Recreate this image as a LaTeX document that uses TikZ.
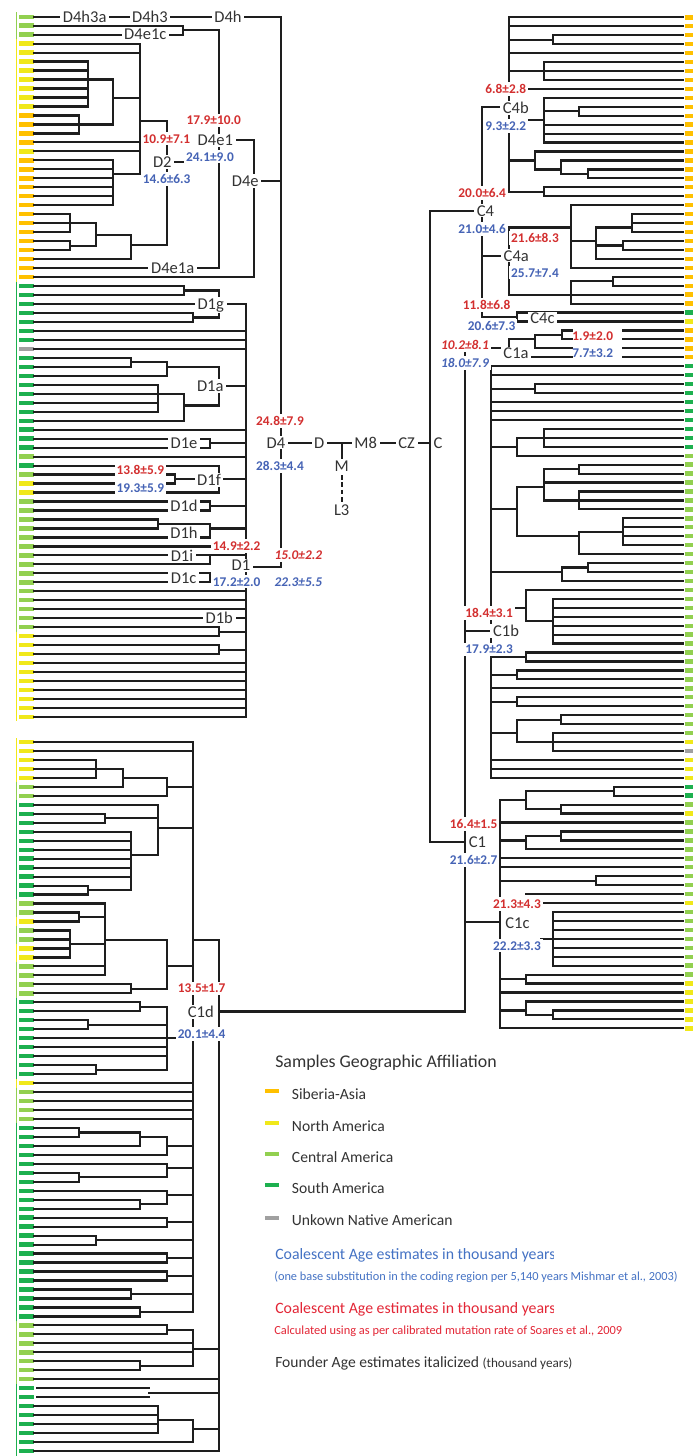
\documentclass[tikz,border=0pt]{standalone}
\usepackage{fontspec}
\setmainfont{Carlito}
\definecolor{lnc}{HTML}{1E1E1E}
\definecolor{cO}{HTML}{FFC000}
\definecolor{cY}{HTML}{F0E81A}
\definecolor{cL}{HTML}{92D050}
\definecolor{cG}{HTML}{1DB04F}
\definecolor{cX}{HTML}{A0A0A0}
\definecolor{cR}{HTML}{D32F2F}
\definecolor{cB}{HTML}{4563B5}
\definecolor{txt}{HTML}{333333}
\definecolor{legB}{HTML}{4472C4}
\definecolor{legR}{HTML}{E32636}
\newcommand\yL[1]{(16.7+8.978*(#1))}
\newcommand\yB[1]{(742+8.975*(#1))}
\newcommand\yR[1]{(17.3+8.947*(#1))}
\newcommand\hLn[3]{\draw[tl] (#1,{#3}) -- (#2,{#3});}
\newcommand\vLn[3]{\draw[tl] (#1,{#2}) -- (#1,{#3});}
\newcommand\lLf[2]{\hLn{34}{#2}{\yL{#1}}}
\newcommand\bLf[2]{\hLn{34}{#2}{\yB{#1}}}
\newcommand\rLf[2]{\hLn{#2}{683}{\yR{#1}}}
\newcommand\lPr[3]{\lLf{#1}{#2}\lLf{#1+1}{#2}\vLn{#2}{\yL{#1}}{\yL{#1+1}}\hLn{#2}{#3}{\yL{#1+0.5}}}
\newcommand\bPr[3]{\bLf{#1}{#2}\bLf{#1+1}{#2}\vLn{#2}{\yB{#1}}{\yB{#1+1}}\hLn{#2}{#3}{\yB{#1+0.5}}}
\newcommand\rPr[3]{\rLf{#1}{#2}\rLf{#1+1}{#2}\vLn{#2}{\yR{#1}}{\yR{#1+1}}\hLn{#3}{#2}{\yR{#1+0.5}}}
\begin{document}
\begin{tikzpicture}[x=0.75pt,y=-0.75pt,
 tl/.style={draw=lnc,line width=1.65pt,line cap=rect},
 lab/.style={fill=white,inner xsep=2pt,inner ysep=1pt,text=txt,font=\fontsize{12.4}{14}\selectfont},
 nm/.style={fill=white,inner xsep=1.5pt,inner ysep=1.7pt,font=\bfseries\fontsize{10}{12}\selectfont},
 rn/.style={nm,text=cR}, bn/.style={nm,text=cB},
 rni/.style={nm,text=cR,font=\bfseries\itshape\fontsize{10}{12}\selectfont},
 bni/.style={nm,text=cB,font=\bfseries\itshape\fontsize{10}{12}\selectfont},
 leg/.style={anchor=west,inner sep=0pt,text=txt,font=\fontsize{11.7}{13}\selectfont}]
\fill[white] (0,0) rectangle (693,1456);
\useasboundingbox (0,0) rectangle (693,1456);

% ---------- markers ----------
\foreach \a/\b/\c in {0/2/cL,3/10/cY,11/14/cO,15/15/cY,16/29/cO,30/36/cG,37/37/cX,38/48/cG,49/49/cL,50/50/cG,51/51/cL,52/53/cY,54/68/cL,69/78/cY}{
  \foreach \i in {\a,...,\b}{\fill[\c] (19,{\yL{\i}-2.2}) rectangle (34,{\yL{\i}+2.2});}}
\foreach \a/\b/\c in {0/2/cL,3/29/cY,30/50/cG,51/68/cL,69/78/cY}{
  \fill[\c] (15.9,{\yL{\a}-4.5}) rectangle (16.9,{\yL{\b}+4.5});}
\foreach \a/\b/\c in {0/4/cY,5/6/cL,7/17/cG,18/19/cL,20/20/cY,21/22/cL,23/24/cY,25/28/cL,29/37/cG,38/38/cY,39/42/cL,43/64/cG,65/71/cL,72/79/cG}{
  \foreach \i in {\a,...,\b}{\fill[\c] (19,{\yB{\i}-2.2}) rectangle (34,{\yB{\i}+2.2});}
  \fill[\c] (15.9,{\yB{\a}-4.5}) rectangle (16.9,{\yB{\b}+4.5});}
\foreach \a/\b/\c in {0/32/cO,33/33/cG,34/34/cY,35/38/cO,39/48/cG,49/80/cL,81/81/cY,82/82/cX,83/85/cY,86/87/cG,88/88/cL,89/89/cY,90/98/cL,99/99/cY,100/107/cL,108/113/cY}{
  \foreach \i in {\a,...,\b}{\fill[\c] (685,{\yR{\i}-2.2}) rectangle (693,{\yR{\i}+2.2});}}

% ---------- left top: D4 ----------
\lLf{0}{281}
\lPr{1}{183}{219}
\vLn{219}{\yL{1.5}}{\yL{28}} \lLf{28}{219}
\hLn{219}{254}{140.3} \vLn{254}{140.3}{\yL{29}} \lLf{29}{254} \hLn{254}{281}{181}
\hLn{167}{219}{162} \vLn{167}{121}{245} \hLn{140}{167}{121}
\vLn{140}{\yL{3}}{174} \lLf{3}{140}\lLf{4}{140}\lLf{14}{140}\lLf{15}{140}
\hLn{113}{140}{97.7} \vLn{113}{\yL{7}}{\yL{12}}
\foreach \i in {5,...,10}{\lLf{\i}{88}} \vLn{88}{\yL{5}}{\yL{10}} \hLn{88}{113}{\yL{7}}
\foreach \i in {11,12,13}{\lLf{\i}{79}} \vLn{79}{\yL{11}}{\yL{13}} \hLn{79}{113}{\yL{12}}
\foreach \i in {16,...,21}{\lLf{\i}{113}} \vLn{113}{\yL{16}}{\yL{21}} \hLn{113}{140}{174}
\foreach \i in {22,23,24}{\lLf{\i}{70}} \vLn{70}{\yL{22}}{\yL{24}} \hLn{70}{96}{\yL{23}}
\lPr{25}{70}{96}
\vLn{96}{\yL{23}}{\yL{25.5}} \hLn{96}{131}{\yL{24.3}}
\vLn{131}{\yL{24.3}}{\yL{27}} \lLf{27}{131} \hLn{131}{167}{245}

% ---------- left top: D1 ----------
\lPr{30}{184}{219} \lPr{33}{193}{219} \vLn{219}{\yL{30.5}}{\yL{33.5}}
\lLf{32}{246} \foreach \i in {35,36,37}{\lLf{\i}{246}}
\lPr{38}{131}{167} \lLf{40}{167} \vLn{167}{\yL{38.5}}{\yL{40}} \hLn{167}{219}{\yL{39}}
\foreach \i in {41,...,44}{\lLf{\i}{158}} \vLn{158}{\yL{41}}{\yL{44}} \hLn{158}{184}{\yL{42}}
\lLf{45}{184} \vLn{184}{\yL{42}}{\yL{45}} \hLn{184}{219}{\yL{43.3}}
\vLn{219}{\yL{39}}{\yL{43.3}} \hLn{219}{246}{386}
\lLf{46}{246}
\lPr{47}{210}{246}
\lLf{49}{246}
\lLf{50}{219} \lPr{51}{175}{246} \lLf{53}{219} \vLn{219}{\yL{50}}{\yL{53}}
\lPr{54}{210}{246}
\lPr{56}{158}{210} \lLf{58}{210} \vLn{210}{\yL{56.5}}{\yL{58}} \hLn{210}{246}{\yL{57}}
\lLf{59}{246}
\lLf{60}{210}\lLf{61}{210}\vLn{210}{\yL{60}}{\yL{61}}\hLn{210}{246}{\yL{60}}
\lPr{62}{210}{246}
\foreach \i in {64,...,67}{\lLf{\i}{246}}
\lPr{68}{219}{246} \lPr{70}{219}{246}
\foreach \i in {72,...,78}{\lLf{\i}{246}}
\vLn{246}{\yL{32}}{\yL{78}}
\hLn{246}{281}{566.7}
\vLn{281}{\yL{0}}{566.7}
\hLn{281}{430}{442.7}
\vLn{341.7}{442.7}{462}
\draw[tl,line cap=butt,dash pattern=on 3.4pt off 2.2pt] (341.7,475) -- (341.7,503);

% ---------- left bottom: C1d ----------
\vLn{192.7}{\yB{0}}{\yB{63.5}}
\bLf{0}{192.7} \bLf{1}{192.7}
\foreach \k in {2,3,4}{\bLf{\k}{96}} \vLn{96}{\yB{2}}{\yB{4}} \hLn{96}{123.3}{\yB{3}}
\bLf{5}{123.3} \vLn{123.3}{\yB{3}}{\yB{5}} \hLn{123.3}{166.7}{\yB{4}}
\bLf{6}{166.7} \vLn{166.7}{\yB{4}}{\yB{6}} \hLn{166.7}{192.7}{\yB{5}}
\bLf{7}{157.7}
\bPr{8}{105}{157.7}
\foreach \k in {10,...,15}{\bLf{\k}{131}}
\bPr{16}{88.3}{131}
\vLn{131}{\yB{10}}{\yB{16.5}} \hLn{131}{157.7}{\yB{12.6}}
\vLn{157.7}{\yB{7}}{\yB{12.6}} \hLn{157.7}{192.7}{\yB{9.55}}
\bLf{18}{105}
\bPr{19}{79}{105}
\foreach \k in {21,...,24}{\bLf{\k}{70}} \vLn{70}{\yB{21}}{\yB{24}} \hLn{70}{105}{\yB{22.5}}
\bLf{25}{105} \bLf{26}{105} \vLn{105}{\yB{18}}{\yB{26}} \hLn{105}{166.7}{\yB{22.1}}
\bPr{27}{131}{166.7}
\vLn{166.7}{\yB{22.1}}{\yB{27.5}} \hLn{166.7}{192.7}{\yB{25}}
\hLn{192.7}{219}{\yB{22.1}}
\bPr{29}{140}{166.7}
\bPr{31}{88.3}{166.7}
\foreach \k in {33,34,35}{\bLf{\k}{166.7}}
\bPr{36}{96}{166.7}
\vLn{166.7}{\yB{29.5}}{\yB{36.5}} \hLn{166.7}{192.7}{\yB{33}}
\foreach \k in {38,...,42}{\bLf{\k}{192.7}}
\bPr{43}{79}{140} \bLf{45}{140} \vLn{140}{\yB{43.5}}{\yB{45}} \hLn{140}{166.7}{\yB{44}}
\bLf{46}{166.7} \vLn{166.7}{\yB{44}}{\yB{46}} \hLn{166.7}{192.7}{\yB{45}}
\bLf{47}{166.7} \bPr{48}{79}{166.7} \vLn{166.7}{\yB{47}}{\yB{48.5}} \hLn{166.7}{192.7}{\yB{47.5}}
\bLf{50}{166.7} \bPr{51}{140}{166.7} \vLn{166.7}{\yB{50}}{\yB{51.5}} \hLn{166.7}{192.7}{\yB{50.5}}
\bPr{53}{166.7}{192.7} \bPr{55}{96}{192.7} \bPr{57}{166.7}{192.7}
\bPr{59}{166.7}{192.7} \bPr{61}{131}{192.7} \bPr{63}{140}{192.7}
\bPr{65}{166.7}{192.7} \bLf{67}{192.7} \bLf{68}{192.7} \bPr{69}{140}{192.7}
\vLn{192.7}{\yB{65.5}}{\yB{69.5}} \hLn{192.7}{219}{\yB{67.6}}
\bLf{71}{219}
\hLn{36.7}{149}{\yB{72}} \hLn{36.7}{149}{\yB{73}} \hLn{149}{219}{\yB{72.5}}
\foreach \k in {74,...,77}{\bLf{\k}{157.7}} \vLn{157.7}{\yB{74}}{\yB{77}} \hLn{157.7}{192.7}{\yB{75.5}}
\bLf{78}{192.7} \vLn{192.7}{\yB{75.5}}{\yB{78}} \hLn{192.7}{219}{\yB{76.5}}
\bLf{79}{219}
\vLn{219}{\yB{22.1}}{\yB{79}}
\hLn{219}{465}{1011.5}

% ---------- right: C4 ----------
\rLf{0}{509.3} \rLf{1}{509.3}
\rPr{2}{552.7}{509.3}
\rLf{4}{509.3}
\rLf{5}{544}\rLf{6}{544}\rLf{7}{544}\vLn{544}{\yR{5}}{\yR{7}}\hLn{509.3}{544}{\yR{6}}
\rLf{8}{509.3}
\rLf{9}{544} \rPr{10}{578.7}{544} \rLf{12}{544}\rLf{13}{544}\rLf{14}{544}
\vLn{544}{\yR{9}}{\yR{14}} \hLn{509.3}{544}{\yR{11.5}}
\rLf{15}{535} \rLf{16}{561} \rPr{17}{587.7}{561} \vLn{561}{\yR{16}}{\yR{17.5}}
\vLn{535}{\yR{15}}{\yR{17}} \hLn{535}{561}{\yR{17}} \hLn{509.3}{535}{\yR{16}}
\rPr{19}{544}{509.3}
\vLn{509.3}{\yR{0}}{\yR{19.5}}
\hLn{481.7}{509.3}{106.7}
\rLf{21}{570.7}
\rLf{22}{632.3}\rLf{23}{632.3}\rLf{24}{632.3}\vLn{632.3}{\yR{22}}{\yR{24}}\hLn{595.7}{632.3}{\yR{23.5}}
\rPr{25}{622.7}{595.7}
\rLf{27}{595.7} \vLn{595.7}{\yR{23.5}}{\yR{27}} \hLn{570.7}{595.7}{\yR{25}}
\rLf{28}{570.7} \vLn{570.7}{\yR{21}}{\yR{28}} \hLn{509.3}{570.7}{\yR{23.5}}
\rPr{29}{613.3}{570.7} \rLf{31}{509.3} \rLf{32}{570.7} \vLn{570.7}{\yR{29.5}}{\yR{32}}
\vLn{509.3}{\yR{23.5}}{\yR{31}}
\hLn{481.7}{509.3}{255.7}
\rLf{33}{516.7}\rLf{34}{516.7}\vLn{516.7}{\yR{33}}{\yR{34}}\hLn{481.7}{516.7}{\yR{33.5}}
\vLn{481.7}{106.7}{\yR{33.5}}
\hLn{430}{481.7}{210.7}

% ---------- right: C1a ----------
\hLn{561.7}{571.7}{\yR{35}} \hLn{622.7}{683}{\yR{35}}
\hLn{561.7}{571.7}{\yR{36}} \hLn{622.7}{683}{\yR{36}}
\vLn{561.7}{\yR{35}}{\yR{36}} \hLn{535}{561.7}{\yR{35.5}}
\hLn{535}{571.7}{\yR{37}} \hLn{622.7}{683}{\yR{37}}
\vLn{535}{\yR{35.5}}{\yR{37}} \hLn{509.3}{535}{\yR{36}}
\hLn{509.3}{571.7}{\yR{38}} \hLn{622.7}{683}{\yR{38}}
\vLn{509.3}{\yR{36}}{\yR{38}} \hLn{465}{509.3}{\yR{37}}

% ---------- right: C1b ----------
\rLf{39}{491}\rLf{40}{491}
\rPr{41}{535}{491}
\rLf{43}{491}\rLf{44}{491}\rLf{45}{491}
\rLf{46}{544}\rLf{47}{544}\rLf{48}{544}\vLn{544}{\yR{46}}{\yR{48}}\hLn{516.7}{544}{\yR{47}}
\rLf{49}{516.7}\vLn{516.7}{\yR{47}}{\yR{49}}\hLn{491}{516.7}{\yR{48}}
\rPr{50}{578.7}{544} \rLf{52}{544}
\rLf{53}{578.7}\rLf{54}{578.7}\rLf{55}{578.7}\vLn{578.7}{\yR{53}}{\yR{55}}\hLn{544}{578.7}{\yR{54}}
\vLn{544}{\yR{50.5}}{\yR{54}} \hLn{516.7}{544}{\yR{52.5}}
\foreach \j in {56,...,59}{\rLf{\j}{622.7}} \vLn{622.7}{\yR{56}}{\yR{59}} \hLn{578.7}{622.7}{\yR{57.5}}
\rLf{60}{578.7} \vLn{578.7}{\yR{57.5}}{\yR{60}} \hLn{516.7}{578.7}{\yR{58}}
\vLn{516.7}{\yR{52.5}}{\yR{58}} \hLn{491}{516.7}{\yR{55}}
\rPr{61}{587.7}{561.7} \rLf{63}{561.7} \vLn{561.7}{\yR{61.5}}{\yR{63}} \hLn{491}{561.7}{\yR{62}}
\rLf{64}{526} \foreach \j in {65,...,70}{\rLf{\j}{553.3}} \vLn{553.3}{\yR{65}}{\yR{70}}
\hLn{526}{553.3}{\yR{67.5}} \vLn{526}{\yR{64}}{\yR{67.5}} \hLn{491}{526}{\yR{66}}
\rPr{71}{526}{491}
\rPr{73}{516.7}{491}
\rLf{75}{491}
\rPr{76}{516.7}{491}
\rPr{78}{561}{516.7} \rLf{80}{552.7}\rLf{81}{552.7}\rLf{82}{552.7}\vLn{552.7}{\yR{80}}{\yR{82}}\hLn{516.7}{552.7}{\yR{81}}
\vLn{516.7}{\yR{78.5}}{\yR{81}} \hLn{491}{516.7}{\yR{80}}
\rLf{83}{491}\rLf{84}{491}\rLf{85}{491}
\vLn{491}{\yR{39}}{\yR{85}}
\hLn{465}{491}{631}

% ---------- right: C1c ----------
\rPr{86}{614.3}{526} \rPr{88}{561}{526} \vLn{526}{\yR{86.5}}{\yR{88.5}} \hLn{500}{526}{\yR{87.5}}
\rLf{90}{500}
\rPr{91}{561}{526} \rLf{93}{526} \vLn{526}{\yR{91.5}}{\yR{93}} \hLn{500}{526}{\yR{92}}
\rLf{94}{500}\rLf{95}{500}
\rPr{96}{596}{500}
\rLf{98}{526}
\rLf{99}{500}
\foreach \j in {100,...,106}{\rLf{\j}{552.7}} \vLn{552.7}{\yR{100}}{\yR{106}} \hLn{541}{552.7}{\yR{103}}
\rPr{107}{526}{500}
\rLf{109}{500}
\rLf{110}{526} \rPr{111}{552.7}{526} \vLn{526}{\yR{110}}{\yR{111.5}} \hLn{500}{526}{\yR{111}}
\rLf{113}{500}
\vLn{500}{\yR{87.5}}{\yR{113}}
\hLn{465}{500}{922.3}
\vLn{465}{\yR{37}}{1011.5}
\hLn{430}{465}{841.7}
\vLn{430}{210.7}{841.7}

% ---------- labels: left top ----------
\node[lab] (nD4h3a) at (84.7,16.7) {D4h3a};
\node[lab] (nD4h3) at (150,16.7) {D4h3};
\node[lab] (nD4h) at (228,16.7) {D4h};
\node[lab] (nD4e1c) at (145.3,34.7) {D4e1c};
\node[rn] (a1) at (213.7,120.3) {17.9±10.0};
\node[lab] (nD4e1) at (215.3,140.3) {D4e1};
\node[rn] (a2) at (166.3,138.7) {10.9±7.1};
\node[lab] (nD2) at (162.3,162) {D2};
\node[bn] (a3) at (210,156.7) {24.1±9.0};
\node[bn] (a4) at (166.7,179) {14.6±6.3};
\node[lab] (nD4e) at (245.3,181) {D4e};
\node[lab] (nD4e1a) at (172.7,268.1) {D4e1a};
\node[lab] (nD1g) at (210.7,305.3) {D1g};
\node[lab] (nD1a) at (210.3,386) {D1a};
\node[rn] (a5) at (280,420.7) {24.8±7.9};
\node[lab] (nD4) at (276,442.7) {D4};
\node[bn] (a6) at (280,466) {28.3±4.4};
\node[lab] (nD1e) at (184,443.2) {D1e};
\node[rn] (a7) at (140.3,470) {13.8±5.9};
\node[lab] (nD1f) at (209,479.5) {D1f};
\node[bn] (a8) at (140.3,488) {19.3±5.9};
\node[lab] (nD1d) at (184,506) {D1d};
\node[lab] (nD1h) at (184,533) {D1h};
\node[rn] (a9) at (236.7,546) {14.9±2.2};
\node[lab] (nD1i) at (182,555.4) {D1i};
\node[lab] (nD1) at (241,565.5) {D1};
\node[rni] (a10) at (298.3,555) {15.0±2.2};
\node[lab] (nD1c) at (183.7,577.8) {D1c};
\node[bn] (a11) at (236.7,581.7) {17.2±2.0};
\node[bni] (a12) at (298.3,581.7) {22.3±5.5};
\node[lab] (nD1b) at (219.3,618.2) {D1b};
% centre
\node[lab] (nD) at (319.3,442.7) {D};
\node[lab] (nM8) at (365.7,442.7) {M8};
\node[lab] (nCZ) at (406.7,442.7) {CZ};
\node[lab,inner xsep=0.5pt] (nC) at (438,442.7) {C};
\node[lab] (nM) at (341.7,466) {M};
\node[lab] (nL3) at (341.7,510) {L3};
% left bottom
\node[rn] (a13) at (201.7,988.3) {13.5±1.7};
\node[lab] (nC1d) at (200.8,1011.7) {C1d};
\node[bn] (a14) at (201.7,1034) {20.1±4.4};
% right
\node[rn] (a15) at (505.7,89.3) {6.8±2.8};
\node[lab] (nC4b) at (515.8,108.3) {C4b};
\node[bn] (a16) at (505.7,126) {9.3±2.2};
\node[rn] (a17) at (482.2,192.7) {20.0±6.4};
\node[lab] (nC4) at (485.5,210.7) {C4};
\node[bn] (a18) at (482.2,228.7) {21.0±4.6};
\node[rn] (a19) at (535,237.7) {21.6±8.3};
\node[lab] (nC4a) at (516.3,255.7) {C4a};
\node[bn] (a20) at (535,272.7) {25.7±7.4};
\node[rn] (a21) at (486.7,305) {11.8±6.8};
\node[lab] (nC4c) at (542.5,318.3) {C4c};
\node[bn] (a22) at (491.7,326) {20.6±7.3};
\node[rni] (a23) at (465,345) {10.2±8.1};
\node[lab] (nC1a) at (516,353.3) {C1a};
\node[rn,fill=none] (a24) at (592.7,335.7) {1.9±2.0};
\node[bn,fill=none] (a25) at (592.7,353.3) {7.7±3.2};
\node[bni] (a26) at (465,362.7) {18.0±7.9};
\node[rn] (a27) at (489.2,612.7) {18.4±3.1};
\node[lab] (nC1b) at (506,631) {C1b};
\node[bn] (a28) at (489.2,649.3) {17.9±2.3};
\node[rn] (a29) at (473.7,824) {16.4±1.5};
\node[lab,inner xsep=1pt] (nC1) at (477.5,841.7) {C1};
\node[bn] (a30) at (473.7,860) {21.6±2.7};
\node[rn] (a31) at (517,904) {21.3±4.3};
\node[lab,inner xsep=1pt] (nC1c) at (517.5,923.3) {C1c};
\node[bn] (a32) at (517,945.7) {22.2±3.3};

% ---------- legend ----------
\node[leg,font=\fontsize{13.4}{15}\selectfont] (legT) at (275,1063.3) {Samples Geographic Affiliation};
\fill[cO] (265,1089.3) rectangle (279,1093.3);
\fill[cY] (265,1121.3) rectangle (279,1125.3);
\fill[cL] (265,1152.3) rectangle (279,1156.3);
\fill[cG] (265,1183.3) rectangle (279,1187.3);
\fill[cX] (265,1215.7) rectangle (279,1219.7);
\node[leg] (legO) at (291.7,1094) {Siberia-Asia};
\node[leg] (legY) at (291.7,1126) {North America};
\node[leg] (legL) at (291.7,1157) {Central America};
\node[leg] (legG) at (291.7,1188) {South America};
\node[leg] (legX) at (291.7,1220) {Unkown Native American};
\begin{scope}
\clip (270,1240) rectangle (553.5,1322);
\node[leg,text=legB,font=\fontsize{11.85}{13}\selectfont] (legB1) at (275,1255) {Coalescent Age estimates in thousand years};
\node[leg,text=legR,font=\fontsize{11.85}{13}\selectfont] (legR1) at (275,1309.3) {Coalescent Age estimates in thousand years};
\end{scope}
\node[leg,text=legB,font=\fontsize{9.25}{11}\selectfont] (legB2) at (274,1277.3) {(one base substitution in the coding region per 5,140 years Mishmar et al., 2003)};
\node[leg,text=legR,font=\fontsize{9.3}{11}\selectfont] (legR2) at (274,1331) {Calculated using as per calibrated mutation rate of Soares et al., 2009};
\node[leg] (legF) at (275,1363.3) {Founder Age estimates italicized {\fontsize{9.9}{11}\selectfont (thousand years)}};
\end{tikzpicture}
\end{document}
